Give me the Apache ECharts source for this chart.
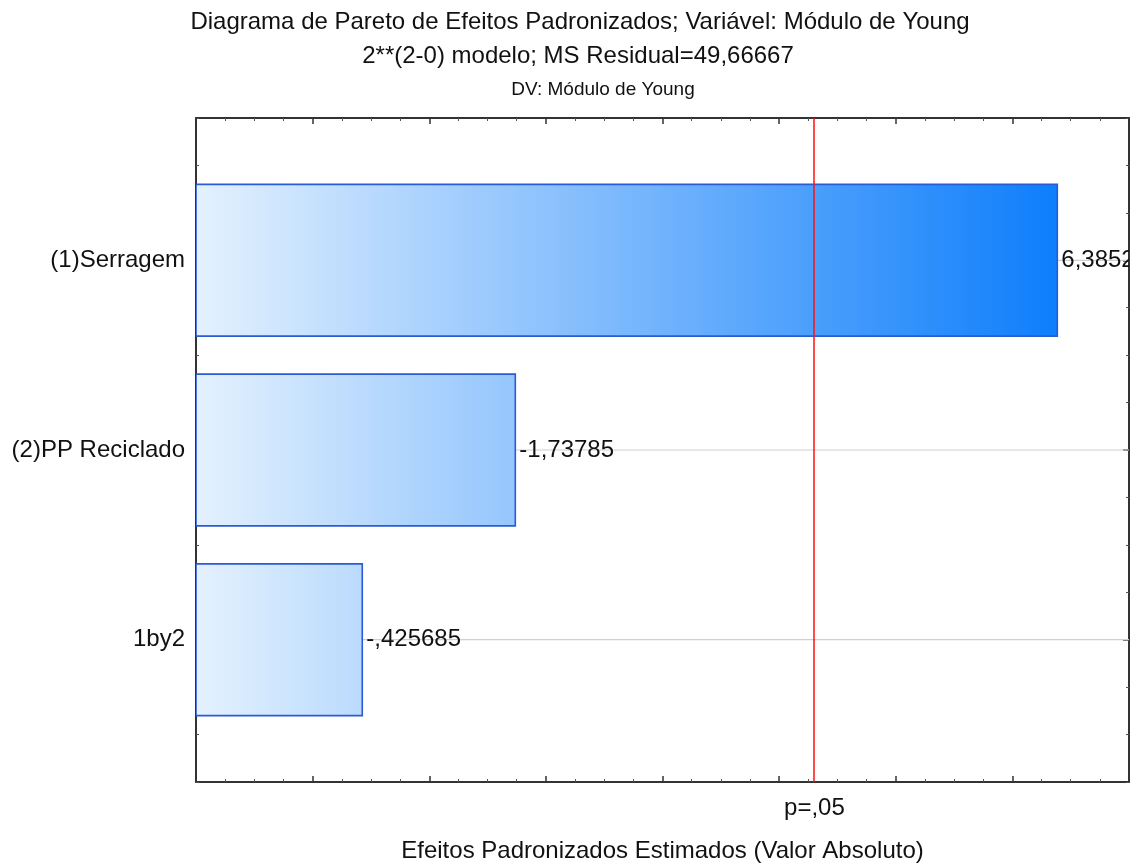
<!DOCTYPE html>
<html><head><meta charset="utf-8">
<script src="https://cdn.jsdelivr.net/npm/echarts@6/dist/echarts.min.js"></script>
<style>html,body{margin:0;padding:0;background:#fff}#c{width:1144px;height:865px}</style>
</head><body><div id="c"></div>
<script>
// ---- data ----
const categories = ['(1)Serragem', '(2)PP Reciclado', '1by2'];
const effects = [6.3852, -1.73785, -0.425685];
const pCritical = 4.302653;          // t(0.025, 2)
const pLabel = 'p=,05';
const titleLines = [
  'Diagrama de Pareto de Efeitos Padronizados; Variável: Módulo de Young',
  '2**(2-0) modelo; MS Residual=49,66667',
  'DV: Módulo de Young'
];
const xAxisName = 'Efeitos Padronizados Estimados (Valor Absoluto)';
const xMin = -1, xMax = 7, xInterval = 1;
const yMin = 0.25, yMax = 3.75;
const catPositions = [1, 2, 3];

// ---- helpers ----
const FONT = "'Liberation Sans', Arial, Helvetica, sans-serif";
const FS = 24;
const fmt = v => String(v).replace('.', ',').replace(/^(-?)0,/, '$1,');
const maxAbs = Math.max(...effects.map(Math.abs));
const seriesData = effects.map((e, i) => [Math.abs(e), catPositions[i], e]);

const chart = echarts.init(document.getElementById('c'), null, {renderer: 'canvas'});

const axisLineStyle = {color: '#333', width: 2};
function xAxisDef(pos, withLabel) {
  return {
    type: 'value', position: pos, min: xMin, max: xMax, interval: xInterval,
    axisLine: {show: true, onZero: false, lineStyle: axisLineStyle},
    axisTick: {show: true, inside: true, length: 6, lineStyle: {color: '#333', width: 1.5}},
    minorTick: {show: true, splitNumber: 4, length: 3, lineStyle: {color: '#555', width: 1}},
    splitLine: {show: false},
    axisLabel: withLabel ? {
      show: true, customValues: [pCritical], margin: 14,
      formatter: v => Math.abs(v - pCritical) < 1e-6 ? pLabel : '',
      fontSize: FS, color: '#111', fontFamily: FONT
    } : {show: false},
    name: withLabel ? xAxisName : '',
    nameLocation: 'middle', nameGap: 57,
    nameTextStyle: {fontSize: FS, color: '#111', fontFamily: FONT}
  };
}
function yAxisDef(pos, major, withLabel) {
  const base = {
    type: 'value', position: pos, inverse: true, min: yMin, max: yMax, interval: 0.25,
    splitLine: {show: false},
    axisLine: {show: !major, onZero: false, lineStyle: axisLineStyle}
  };
  if (major) {
    base.axisTick = {show: true, inside: true, length: 6, customValues: catPositions, lineStyle: {color: '#333', width: 1.5}};
    base.axisLabel = {show: false};
  } else {
    base.axisTick = {show: true, inside: true, length: 3, lineStyle: {color: '#555', width: 1}};
    base.axisLabel = withLabel ? {
      show: true, customValues: catPositions, margin: 11,
      formatter: v => { const k = catPositions.indexOf(v); return k >= 0 ? categories[k] : ''; },
      fontSize: FS, color: '#111', fontFamily: FONT
    } : {show: false};
  }
  return base;
}

const titleStyle = size => ({fontSize: size, fontWeight: 'normal', color: '#111', fontFamily: FONT});
const option = {
  animation: false,
  backgroundColor: '#fff',
  title: [
    {text: titleLines[0], left: 575, top: 5, textAlign: 'center', textStyle: titleStyle(FS)},
    {text: titleLines[1], left: 573, top: 39, textAlign: 'center', textStyle: titleStyle(FS)},
    {text: titleLines[2], left: 598, top: 75, textAlign: 'center', textStyle: titleStyle(19)}
  ],
  grid: {left: 196, right: 15, top: 118, bottom: 83, containLabel: false, outerBoundsMode: 'none'},
  xAxis: [xAxisDef('bottom', true), xAxisDef('top', false)],
  yAxis: [yAxisDef('left', false, true), yAxisDef('left', true, false),
          yAxisDef('right', false, false), yAxisDef('right', true, false)],
  series: [{
    type: 'custom',
    xAxisIndex: 0, yAxisIndex: 0,
    clip: true,
    encode: {x: 0, y: 1},
    data: seriesData,
    renderItem: function (params, api) {
      const v = api.value(0), yv = api.value(1), eff = api.value(2);
      const p0 = api.coord([xMin, yv]);
      const p1 = api.coord([v, yv]);
      const pEnd = api.coord([xMax, yv]);
      const h = api.size([0, 0.8])[1];
      const gx0 = api.coord([xMin, yv])[0];
      const gx1 = api.coord([maxAbs, yv])[0];
      const grad = new echarts.graphic.LinearGradient(gx0, 0, gx1, 0, [
        {offset: 0, color: '#e4f1fe'},
        {offset: 1, color: '#0e7efb'}
      ], true);
      return {
        type: 'group',
        children: [
          {type: 'line', shape: {x1: p0[0], y1: p0[1], x2: pEnd[0], y2: p0[1]},
           style: {stroke: '#cfcfcf', lineWidth: 1.2}},
          {type: 'rect', shape: {x: p0[0], y: p0[1] - h / 2, width: p1[0] - p0[0], height: h},
           style: {fill: grad, stroke: '#2a5bd7', lineWidth: 1.6}},
          {type: 'text', x: p1[0] + 4, y: p0[1],
           style: {text: fmt(eff), verticalAlign: 'middle', align: 'left',
                   fill: '#111', fontSize: FS, fontFamily: FONT}}
        ]
      };
    },
    markLine: {
      silent: true, symbol: 'none', animation: false,
      label: {show: false},
      lineStyle: {color: '#ff1010', width: 1.5, type: 'solid'},
      data: [{xAxis: pCritical}]
    }
  }]
};
chart.setOption(option);
</script>
</body></html>
